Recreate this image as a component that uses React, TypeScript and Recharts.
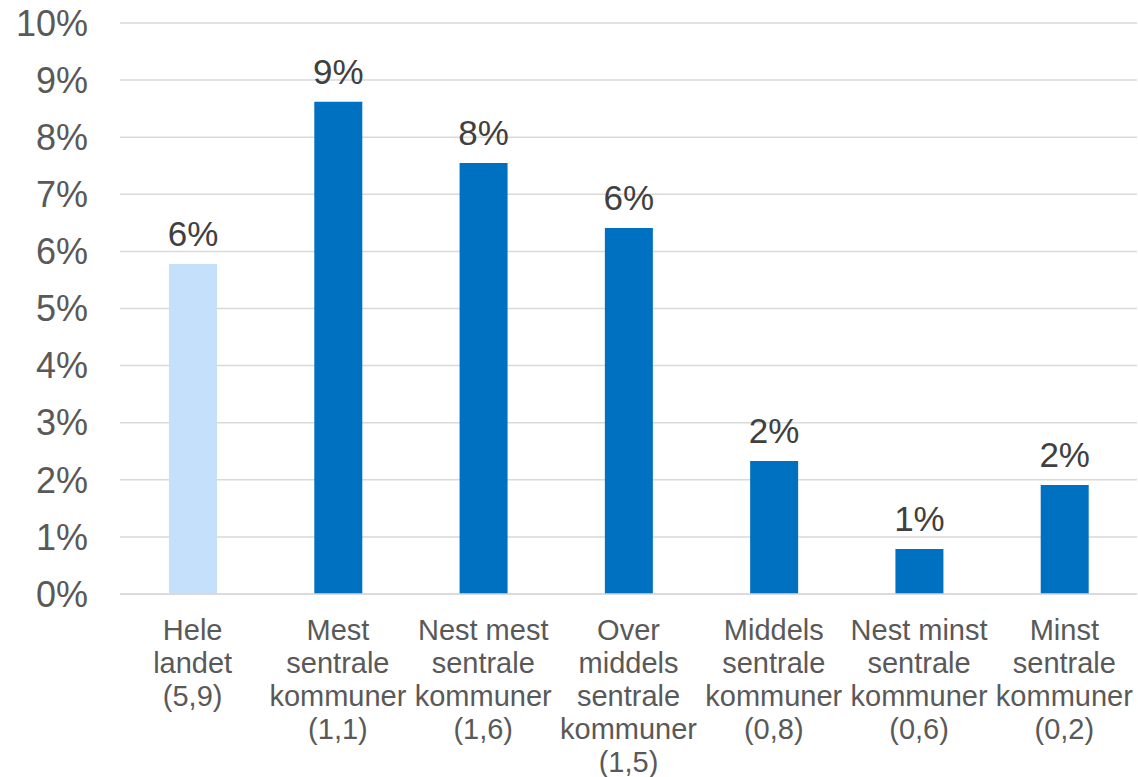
import React from 'react';
import { BarChart, Bar, XAxis, YAxis, CartesianGrid, LabelList, Cell } from 'recharts';

const categories = [
  'Hele landet (5,9)',
  'Mest sentrale kommuner (1,1)',
  'Nest mest sentrale kommuner (1,6)',
  'Over middels sentrale kommuner (1,5)',
  'Middels sentrale kommuner (0,8)',
  'Nest minst sentrale kommuner (0,6)',
  'Minst sentrale kommuner (0,2)',
];

// label lines as they wrap in the original
const categoryLines = [
  ['Hele', 'landet', '(5,9)'],
  ['Mest', 'sentrale', 'kommuner', '(1,1)'],
  ['Nest mest', 'sentrale', 'kommuner', '(1,6)'],
  ['Over', 'middels', 'sentrale', 'kommuner', '(1,5)'],
  ['Middels', 'sentrale', 'kommuner', '(0,8)'],
  ['Nest minst', 'sentrale', 'kommuner', '(0,6)'],
  ['Minst', 'sentrale', 'kommuner', '(0,2)'],
];

const shares = [5.78, 8.62, 7.55, 6.41, 2.33, 0.79, 1.91];

const yTicks = [0, 1, 2, 3, 4, 5, 6, 7, 8, 9, 10];

const data = categories.map((name, i) => ({ name, idx: i, value: shares[i] }));

const FONT = 'Arial, "Liberation Sans", Helvetica, sans-serif';

function CategoryTick(props: any) {
  const { x, y, payload } = props;
  const lines = categoryLines[payload.index] ?? [payload.value];
  return (
    <text x={x} y={y} textAnchor="middle" fill="#595959" fontSize={29} fontFamily={FONT}>
      {lines.map((line, i) => (
        <tspan key={i} x={x} y={y + 38 + i * 33}>
          {line}
        </tspan>
      ))}
    </text>
  );
}

export default function App() {
  return (
    <div style={{ position: 'absolute', left: 0, top: 0, background: '#fff' }}>
      <BarChart
        width={1138}
        height={777}
        data={data}
        margin={{ top: 23, right: 1, bottom: 0, left: 0 }}
        barCategoryGap={0}
      >
        <CartesianGrid vertical={false} stroke="#d9d9d9" strokeWidth={1.5} />
        <XAxis
          dataKey="name"
          axisLine={{ stroke: '#d9d9d9', strokeWidth: 1.5 }}
          tickLine={false}
          interval={0}
          tick={<CategoryTick />}
          height={183}
        />
        <YAxis
          width={120}
          domain={[0, 10]}
          ticks={yTicks}
          interval={0}
          axisLine={false}
          tickLine={false}
          tickMargin={26}
          tickFormatter={(v: number) => `${v}%`}
          tick={{ fill: '#595959', fontSize: 36, fontFamily: FONT }}
        />
        <Bar dataKey="value" barSize={48} isAnimationActive={false}>
          {data.map((d) => (
            <Cell key={d.idx} fill={d.idx === 0 ? '#c5e0fa' : '#0070c0'} />
          ))}
          <LabelList
            dataKey="value"
            position="top"
            offset={18}
            formatter={(v: any) => `${Math.round(Number(v))}%`}
            style={{ fill: '#404040', fontSize: 35, fontFamily: FONT }}
          />
        </Bar>
      </BarChart>
    </div>
  );
}
